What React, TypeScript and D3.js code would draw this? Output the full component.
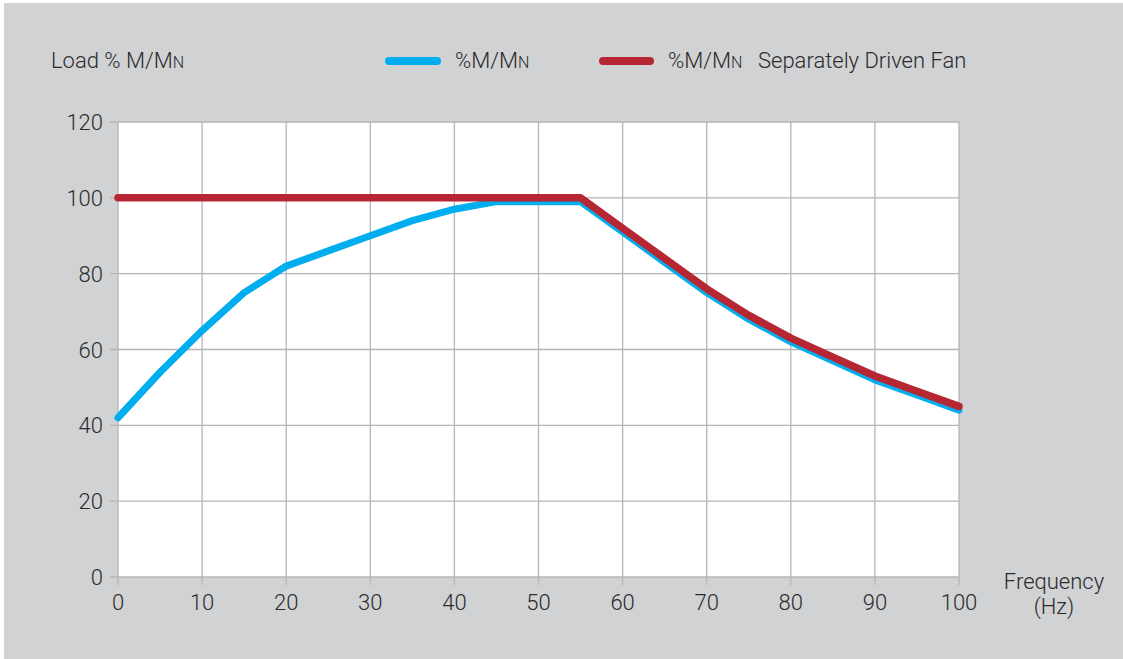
import React from "react";
import * as d3 from "d3";

const freq = [0, 5, 10, 15, 20, 25, 30, 35, 40, 45, 50, 55, 60, 65, 70, 75, 80, 85, 90, 95, 100];
const selfCooled = [42, 54, 65, 75, 82, 86, 90, 94, 97, 99, 99, 99, 91, 83, 75, 68, 62, 57, 52, 48, 44];
const separateFan = [100, 100, 100, 100, 100, 100, 100, 100, 100, 100, 100, 100, 92, 84, 76, 69, 63, 58, 53, 49, 45];
const xTicks = [0, 10, 20, 30, 40, 50, 60, 70, 80, 90, 100];
const yTicks = [0, 20, 40, 60, 80, 100, 120];

const W = 1123, H = 659;
const FONT = "Roboto, 'Liberation Sans', Arial, sans-serif";
const TXT = "#2b2b2b";
const FS = 22;
const SUB = 16;

export default function App() {
  React.useEffect(() => {
    document.body.style.margin = "0";
  }, []);
  const x = d3.scaleLinear().domain([0, 100]).range([118, 959]);
  const y = d3.scaleLinear().domain([0, 120]).range([577, 122]);
  const line = d3.line<number>().x((_, i) => x(freq[i])).y((d) => y(d));
  const grid = "#b4b5b7";
  return (
    <svg width={W} height={H} style={{ display: "block" }} fontFamily={FONT}>
      <rect x={0} y={0} width={W} height={H} fill="#ffffff" />
      <rect x={4} y={3} width={W - 4} height={H - 3} fill="#d1d2d4" />
      <rect x={x(0)} y={y(120)} width={x(100) - x(0)} height={y(0) - y(120)} fill="#ffffff" />
      {xTicks.map((t) => (
        <line key={"gx" + t} x1={x(t)} x2={x(t)} y1={y(120)} y2={y(0) + 8} stroke={grid} strokeWidth={1.3} />
      ))}
      {yTicks.map((t) => (
        <line key={"gy" + t} x1={x(0) - 8} x2={x(100)} y1={y(t)} y2={y(t)} stroke={grid} strokeWidth={1.3} />
      ))}
      {yTicks.map((t) => (
        <text key={"ly" + t} x={103} y={y(t) + 8} textAnchor="end" fontSize={FS} fontWeight={300} fill={TXT}>
          {t}
        </text>
      ))}
      {xTicks.map((t) => (
        <text key={"lx" + t} x={x(t)} y={610} textAnchor="middle" fontSize={FS} fontWeight={300} fill={TXT}>
          {t}
        </text>
      ))}
      <text x={1054} y={589} textAnchor="middle" fontSize={FS} fontWeight={300} fill={TXT}>Frequency</text>
      <text x={1054} y={614} textAnchor="middle" fontSize={FS} fontWeight={300} fill={TXT}>(Hz)</text>
      <text x={51} y={68} fontSize={FS} fontWeight={300} fill={TXT}>
        Load % M/M<tspan fontSize={SUB}>N</tspan>
      </text>
      <path d={line(selfCooled) || ""} fill="none" stroke="#00aeef" strokeWidth={7} strokeLinecap="round" strokeLinejoin="round" />
      <path d={line(separateFan) || ""} fill="none" stroke="#b72733" strokeWidth={7.5} strokeLinecap="round" strokeLinejoin="round" />
      <line x1={389} x2={437} y1={61} y2={61} stroke="#00aeef" strokeWidth={8} strokeLinecap="round" />
      <text x={455} y={68} fontSize={FS} fontWeight={300} fill={TXT}>
        %M/M<tspan fontSize={SUB}>N</tspan>
      </text>
      <line x1={603} x2={650} y1={61} y2={61} stroke="#b72733" strokeWidth={8} strokeLinecap="round" />
      <text x={668} y={68} fontSize={FS} fontWeight={300} fill={TXT}>
        %M/M<tspan fontSize={SUB}>N</tspan>
      </text>
      <text x={758} y={68} fontSize={FS} fontWeight={300} fill={TXT}>Separately Driven Fan</text>
    </svg>
  );
}
